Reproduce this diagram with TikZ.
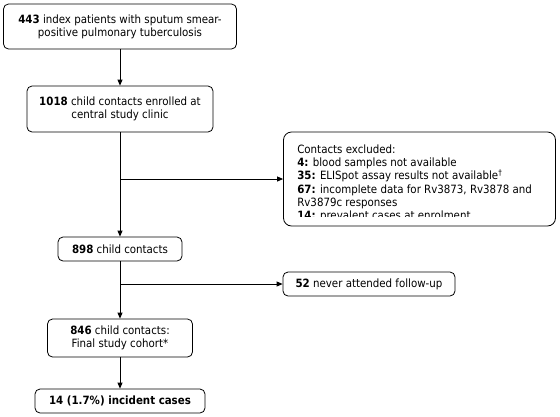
\documentclass[tikz,border=0pt]{standalone}
\usepackage{fontspec}
\setmainfont{DejaVu Sans Condensed}
\usetikzlibrary{arrows.meta, positioning, calc}

\begin{document}
\begin{tikzpicture}[x=1pt, y=-1pt, font=\fontsize{11.4}{13.2}\selectfont,
    box/.style={draw, rectangle, rounded corners=5pt, line width=0.8pt, align=center, inner sep=0pt},
    flow/.style={-{Triangle[length=6pt, width=5pt]}, line width=0.8pt}]
    \useasboundingbox (0,0) rectangle (560,416);

    % Index patients
    \node[box, minimum width=233pt, minimum height=45pt] (idx) at (120,26.5) {\textbf{443} index patients with sputum smear-\\positive pulmonary tuberculosis};

    % Enrolled contacts
    \node[box, minimum width=186pt, minimum height=46pt] (enr) at (120,109) {\textbf{1018} child contacts enrolled at\\central study clinic};

    % Excluded contacts (text cut off by the box)
    \node[box, rounded corners=8pt, minimum width=272pt, minimum height=94pt] (excl) at (419.5,179) {};
    \begin{scope}
        \clip (excl.north west) rectangle ($(excl.south east)+(0,-10)$);
        \node[anchor=north west, align=left, inner sep=0pt] (excltxt) at ($(excl.north west)+(14,13)$) {Contacts excluded:\\
            \textbf{4:} blood samples not available\\
            \textbf{35:} ELISpot assay results not available\textsuperscript{†}\\
            \textbf{67:} incomplete data for Rv3873, Rv3878 and\\
            Rv3879c responses\\
            \textbf{14:} prevalent cases at enrolment};
    \end{scope}

    % Remaining contacts
    \node[box, minimum width=124pt, minimum height=24pt] (kids) at (120,249) {\textbf{898} child contacts};

    % Lost to follow-up
    \node[box, minimum width=172pt, minimum height=24pt] (lost) at (369,284) {\textbf{52} never attended follow-up};

    % Final cohort
    \node[box, minimum width=145pt, minimum height=38pt] (cohort) at (120,338) {\textbf{846} child contacts:\\Final study cohort*};

    % Incident cases
    \node[box, minimum width=170pt, minimum height=24pt] (cases) at (120,401) {\textbf{14 (1.7\%) incident cases}};

    \coordinate (split1) at (enr.south |- excl.west);
    \coordinate (split2) at (kids.south |- lost.west);

    \draw[flow] (idx) -- (enr);
    \draw[flow] (enr) -- (kids);
    \draw[flow] (split1) -- (excl.west);
    \draw[flow] (kids) -- (cohort);
    \draw[flow] (split2) -- (lost.west);
    \draw[flow] (cohort) -- (cases);
\end{tikzpicture}
\end{document}
